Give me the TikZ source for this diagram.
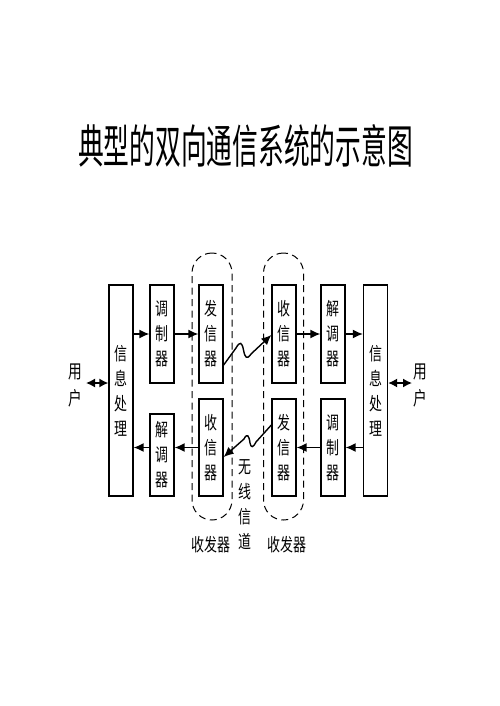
\documentclass[tikz,border=0pt]{standalone}
\usepackage{fontspec}
\usetikzlibrary{arrows.meta,calc}
\newfontfamily\cjk[FakeStretch=0.72]{Noto Sans CJK SC}
\newfontfamily\cjkt[FakeStretch=0.56]{Noto Sans CJK SC}
\begin{document}
\begin{tikzpicture}[x=1pt,y=-1pt,
  blk/.style={draw, line width=1.3pt, inner sep=0pt, minimum width=24pt,
    font=\cjk\fontsize{18}{25}\selectfont, align=center},
  lbl/.style={inner sep=0pt, font=\cjk\fontsize{18}{25}\selectfont, align=center},
  arr/.style={line width=1.4pt, -{Latex[length=10pt,width=9pt]}},
  dbl/.style={line width=1.4pt, {Latex[length=9pt,width=9pt]}-{Latex[length=9pt,width=9pt]}},
  trx/.style={draw, dashed, dash pattern=on 7pt off 4.5pt, line width=1pt,
    rounded corners=20pt, minimum width=40pt, minimum height=267pt, inner sep=0pt}]
\useasboundingbox (0,0) rectangle (499,706);

% title
\node[inner sep=0pt, font=\cjkt\fontsize{46}{46}\selectfont] (title) at (245.5,146) {典型的双向通信系统的示意图};

% transceiver outlines
\node[trx] (trx1) at (212,386.5) {};
\node[trx] (trx2) at (283.5,386.5) {};

% left station
\node[blk, minimum height=211pt] (info1) at (121,390.5) {信\\息\\处\\理};
\node[blk, minimum height=98pt] (mod1) at (162,334) {调\\制\\器};
\node[blk, minimum height=98pt] (tx1) at (211,334) {发\\信\\器};
\node[blk, minimum height=97pt] (rx1) at (211,447.5) {收\\信\\器};
\node[blk, minimum height=82pt] (dem1) at (162,455) {解\\调\\器};

% right station
\node[blk, minimum height=98pt] (rx2) at (284,334) {收\\信\\器};
\node[blk, minimum height=98pt] (dem2) at (333,334) {解\\调\\器};
\node[blk, minimum height=211pt] (info2) at (375.5,390.5) {信\\息\\处\\理};
\node[blk, minimum height=97pt] (tx2) at (284,447.5) {发\\信\\器};
\node[blk, minimum height=97pt] (mod2) at (333,447.5) {调\\制\\器};

% users
\node[lbl, font=\cjk\fontsize{19}{27}\selectfont] (u1) at (75,385) {用\\户};
\node[lbl, font=\cjk\fontsize{19}{27}\selectfont] (u2) at (420,385) {用\\户};
\coordinate (ul) at (86,383);
\coordinate (ur) at (412,383);

% labels
\node[lbl] (ch) at (245,505) {无\\线\\信\\道};
\node[lbl, font=\cjk\fontsize{18}{18}\selectfont] (t1) at (211,545) {收发器};
\node[lbl, font=\cjk\fontsize{18}{18}\selectfont] (t2) at (287,545) {收发器};

% arrows upper path
\draw[arr] (info1.east |- mod1.center) -- (mod1.west);
\draw[arr] (mod1.east) -- (tx1.west);
\draw[arr] (rx2.east) -- (dem2.west);
\draw[arr] (dem2.east) -- (info2.west |- dem2.east);
% arrows lower path
\draw[arr] (info2.west |- mod2.east) -- (mod2.east);
\draw[arr] (mod2.west) -- (tx2.east);
\draw[arr] (rx1.west) -- (dem1.east |- rx1.west);
\draw[arr] (dem1.west |- rx1.west) -- (info1.east |- rx1.west);
% users
\draw[dbl] (ul) -- (ul -| info1.west);
\draw[dbl] (info2.east |- ur) -- (ur);

% wireless links
\draw[arr] ([yshift=-31pt]tx1.east) -- (236,348)
  .. controls (240,341) and (242,342) .. (243.5,350)
  .. controls (245,358) and (247,360) .. (251,354) -- ([yshift=-1pt]rx2.west);
\draw[arr] ([yshift=22.5pt]tx2.west) -- (256,442)
  .. controls (253,448) and (251,448) .. (250,443)
  .. controls (249,435) and (247,433) .. (244,439) -- ([yshift=-9.5pt]rx1.east);
\end{tikzpicture}
\end{document}
